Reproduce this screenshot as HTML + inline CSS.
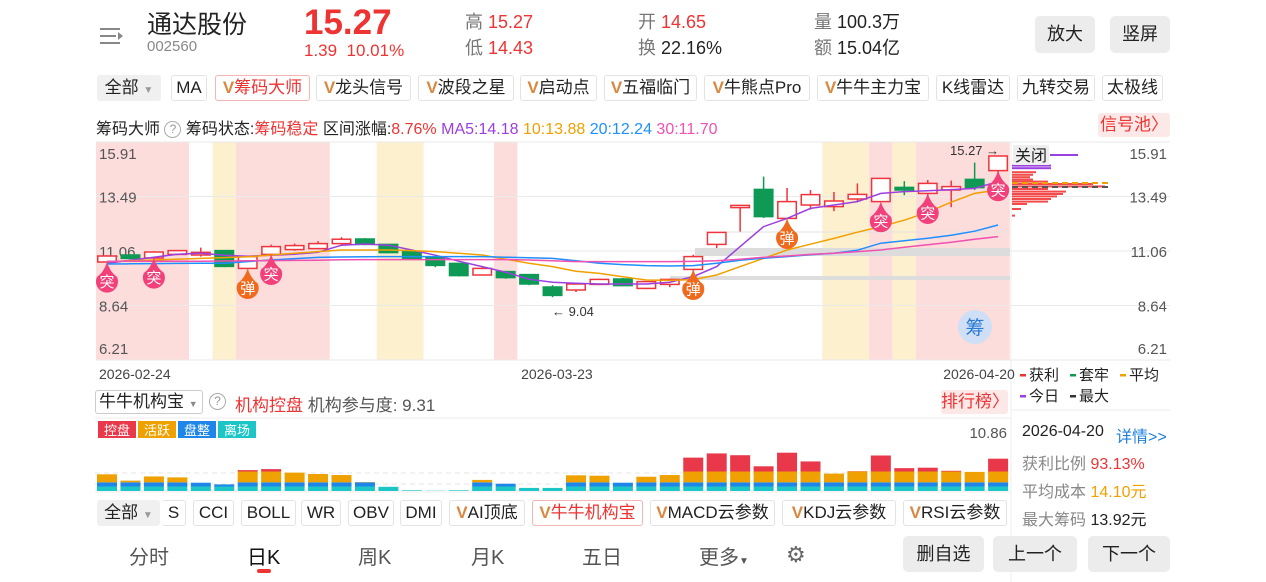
<!DOCTYPE html>
<html><head><meta charset="utf-8">
<style>
*{margin:0;padding:0;box-sizing:border-box}
body{width:1266px;height:582px;background:#fff;position:relative;overflow:hidden;font-family:"Liberation Sans","Noto Sans CJK SC",sans-serif;color:#222}
.a{position:absolute;white-space:nowrap}
.tab{position:absolute;top:75px;height:26px;border:1px solid #e3e3e3;border-radius:3px;font-size:17px;line-height:24px;text-align:center;color:#222;background:#fff}
.tab2{position:absolute;top:500px;height:26px;border:1px solid #e3e3e3;border-radius:3px;font-size:17px;line-height:24px;text-align:center;color:#222;background:#fff}
.v{color:#d9883f;font-weight:bold}
.btn{position:absolute;background:#ececec;border-radius:5px;font-size:18px;text-align:center;color:#222}
.g{color:#777}
.r{color:#ee3333}
</style></head><body>
<div class="a" style="left:100px;top:26px;width:24px;height:20px">
<div style="position:absolute;left:0;top:2px;width:20px;height:2px;background:#888"></div>
<div style="position:absolute;left:0;top:9px;width:16px;height:2px;background:#888"></div>
<div style="position:absolute;left:0;top:16px;width:20px;height:2px;background:#888"></div>
<div style="position:absolute;left:18px;top:6px;width:0;height:0;border-left:5px solid #888;border-top:4px solid transparent;border-bottom:4px solid transparent"></div></div>
<div class="a" style="left:147px;top:10px;font-size:25px;line-height:30px;color:#222">通达股份</div>
<div class="a" style="left:147px;top:38px;font-size:15px;line-height:18px;color:#888">002560</div>
<div class="a r" style="left:304px;top:4px;font-size:35px;line-height:38px;font-weight:bold">15.27</div>
<div class="a r" style="left:304px;top:41px;font-size:17px;line-height:20px">1.39&nbsp;&nbsp;10.01%</div>
<div class="a" style="left:465px;top:11px;font-size:18px;line-height:22px"><span class="g">高</span> <span class="r">15.27</span></div>
<div class="a" style="left:465px;top:37px;font-size:18px;line-height:22px"><span class="g">低</span> <span class="r">14.43</span></div>
<div class="a" style="left:638px;top:11px;font-size:18px;line-height:22px"><span class="g">开</span> <span class="r">14.65</span></div>
<div class="a" style="left:638px;top:37px;font-size:18px;line-height:22px"><span class="g">换</span> 22.16%</div>
<div class="a" style="left:814px;top:11px;font-size:18px;line-height:22px"><span class="g">量</span> 100.3万</div>
<div class="a" style="left:814px;top:37px;font-size:18px;line-height:22px"><span class="g">额</span> 15.04亿</div>
<div class="btn" style="left:1035px;top:16px;width:60px;height:37px;line-height:37px">放大</div>
<div class="btn" style="left:1110px;top:16px;width:60px;height:37px;line-height:37px">竖屏</div>
<div class="tab" style="left:97px;width:64px;background:#f0f0f0;border-color:#f0f0f0">全部 <span style="font-size:10px;color:#999">▼</span></div>
<div class="tab" style="left:171px;width:36px">MA</div>
<div class="tab" style="left:215px;width:95px;color:#ee3333;border-color:#f5b5b5"><span class="v">V</span>筹码大师</div>
<div class="tab" style="left:316px;width:95px"><span class="v">V</span>龙头信号</div>
<div class="tab" style="left:418px;width:96px"><span class="v">V</span>波段之星</div>
<div class="tab" style="left:520px;width:77px"><span class="v">V</span>启动点</div>
<div class="tab" style="left:604px;width:93px"><span class="v">V</span>五福临门</div>
<div class="tab" style="left:704px;width:106px"><span class="v">V</span>牛熊点Pro</div>
<div class="tab" style="left:817px;width:112px"><span class="v">V</span>牛牛主力宝</div>
<div class="tab" style="left:936px;width:74px">K线雷达</div>
<div class="tab" style="left:1017px;width:78px">九转交易</div>
<div class="tab" style="left:1102px;width:61px">太极线</div>
<div class="a" style="left:96px;top:115px;font-size:16px;color:#222">筹码大师 <span style="display:inline-block;width:17px;height:17px;border:1px solid #aaa;border-radius:50%;font-size:12px;line-height:15px;text-align:center;color:#999;vertical-align:1px">?</span> 筹码状态:<span class="r">筹码稳定</span> 区间涨幅:<span class="r">8.76%</span> <span style="color:#9b3fe0">MA5:14.18</span> <span style="color:#f0a000">10:13.88</span> <span style="color:#1e8fff">20:12.24</span> <span style="color:#f050b0">30:11.70</span></div>
<div class="a" style="left:1098px;top:113px;width:72px;height:24px;background:#fde8e8;color:#ee3333;font-size:17px;line-height:24px;text-align:center;border-radius:3px">信号池〉</div>

<svg id="chart" class="a" style="left:0;top:0" width="1266" height="582"></svg>

<div class="a" style="left:95px;top:390px;width:108px;height:24px;border:1px solid #ccc;border-radius:3px;font-size:17px;line-height:22px;padding-left:3px">牛牛机构宝 <span style="font-size:9px;color:#888">▼</span></div>
<div class="a" style="left:209px;top:393px;width:17px;height:17px;border:1px solid #aaa;border-radius:50%;font-size:12px;line-height:15px;text-align:center;color:#999">?</div>
<div class="a" style="left:235px;top:391px;font-size:17px"><span class="r">机构控盘</span> <span style="color:#555">机构参与度: 9.31</span></div>
<div class="a" style="left:941px;top:390px;width:67px;height:24px;background:#fde8e8;color:#ee3333;font-size:17px;line-height:24px;text-align:center;border-radius:3px">排行榜〉</div>
<div class="a" style="left:1022px;top:423px;font-size:16px">2026-04-20</div>
<div class="a" style="left:1116px;top:423px;font-size:16px;color:#1e7fe0">详情&gt;&gt;</div>
<div class="a" style="left:1022px;top:450px;font-size:16px"><span style="color:#888">获利比例</span> <span class="r">93.13%</span></div>
<div class="a" style="left:1022px;top:478px;font-size:16px"><span style="color:#888">平均成本</span> <span style="color:#f0a000">14.10元</span></div>
<div class="a" style="left:1022px;top:506px;font-size:16px"><span style="color:#888">最大筹码</span> 13.92元</div>
<div class="tab2" style="left:97px;width:63px;background:#f0f0f0;border-color:#f0f0f0">全部 <span style="font-size:10px;color:#999">▼</span></div>
<div class="tab2" style="left:162px;width:24px;border-left:none">S</div>
<div class="tab2" style="left:193px;width:41px">CCI</div>
<div class="tab2" style="left:241px;width:55px">BOLL</div>
<div class="tab2" style="left:301px;width:40px">WR</div>
<div class="tab2" style="left:348px;width:46px">OBV</div>
<div class="tab2" style="left:400px;width:42px">DMI</div>
<div class="tab2" style="left:449px;width:76px"><span class="v">V</span>AI顶底</div>
<div class="tab2" style="left:532px;width:111px;color:#ee3333;border-color:#f5b5b5"><span class="v">V</span>牛牛机构宝</div>
<div class="tab2" style="left:650px;width:125px"><span class="v">V</span>MACD云参数</div>
<div class="tab2" style="left:782px;width:114px"><span class="v">V</span>KDJ云参数</div>
<div class="tab2" style="left:903px;width:104px"><span class="v">V</span>RSI云参数</div>
<div class="a" style="left:129px;top:541px;font-size:20px;color:#555">分时</div>
<div class="a" style="left:247px;top:541px;font-size:20px;color:#111">日K</div>
<div class="a" style="left:257px;top:569px;width:14px;height:4px;border-radius:2px;background:#ee3333"></div>
<div class="a" style="left:358px;top:541px;font-size:20px;color:#555">周K</div>
<div class="a" style="left:471px;top:541px;font-size:20px;color:#555">月K</div>
<div class="a" style="left:582px;top:541px;font-size:20px;color:#555">五日</div>
<div class="a" style="left:699px;top:541px;font-size:20px;color:#555">更多<span style="font-size:10px">▼</span></div>
<div class="a" style="left:786px;top:542px;font-size:22px;color:#666">⚙</div>
<div class="btn" style="left:903px;top:536px;width:81px;height:36px;line-height:36px">删自选</div>
<div class="btn" style="left:993px;top:536px;width:84px;height:36px;line-height:36px">上一个</div>
<div class="btn" style="left:1088px;top:536px;width:82px;height:36px;line-height:36px">下一个</div>

<script>
const opens  =[10.46,10.81,10.66,10.84,10.81,11.03,10.14,10.84,11.08,11.13,11.38,11.61,11.34,10.99,10.68,10.39,9.81,9.98,9.83,9.21,9.06,9.34,9.61,9.14,9.34,10.09,11.34,13.18,14.09,12.64,13.31,13.23,13.61,13.48,14.19,13.89,14.06,14.59,15.03];
const closes =[10.76,10.64,10.96,11.03,10.94,10.24,10.73,11.23,11.28,11.38,11.60,11.34,10.93,10.61,10.29,9.78,10.14,9.68,9.36,8.79,9.36,9.59,9.28,9.48,9.59,10.73,11.94,13.29,12.73,13.48,13.83,13.51,13.84,14.64,14.06,14.39,14.23,14.18,15.76];
const highs  =[10.80,10.85,11.00,11.06,11.18,11.06,10.78,11.33,11.38,11.50,11.70,11.66,11.36,11.02,10.70,10.42,10.18,10.02,9.86,9.30,9.40,9.62,9.66,9.50,9.62,10.82,11.94,13.29,14.73,14.16,14.06,13.96,14.39,14.66,14.50,14.56,14.53,15.43,15.76];
const lows   =[10.44,10.60,10.62,10.80,10.73,10.20,10.09,10.80,11.02,11.10,11.34,11.30,10.90,10.56,10.20,9.74,9.78,9.62,9.30,8.70,8.96,9.30,9.25,9.10,9.20,9.70,11.16,11.98,12.66,12.60,13.08,13.00,13.48,13.46,13.80,13.50,13.20,14.06,14.70];
const ma5  =[10.40,10.55,10.70,10.85,10.90,10.80,10.75,10.80,10.85,10.95,11.30,11.36,11.30,11.06,10.80,10.50,10.23,9.95,9.60,9.45,9.40,9.36,9.36,9.36,9.45,9.73,10.23,11.23,12.23,12.64,13.14,13.31,13.48,13.89,13.98,14.02,14.08,14.14,14.48];
const ma10 =[10.48,10.52,10.56,10.60,10.64,10.68,10.72,10.81,10.90,10.98,11.06,11.06,11.06,11.03,10.98,10.90,10.81,10.60,10.40,10.23,10.00,9.89,9.72,9.56,9.54,9.58,9.81,10.23,10.64,11.06,11.35,11.64,11.95,12.23,12.55,12.95,13.45,13.89,14.06];
const ma20 =[10.36,10.37,10.38,10.39,10.40,10.40,10.48,10.56,10.63,10.69,10.71,10.72,10.73,10.73,10.73,10.73,10.73,10.70,10.67,10.64,10.52,10.40,10.33,10.28,10.26,10.28,10.40,10.55,10.65,10.73,10.82,10.90,11.05,11.40,11.52,11.65,11.80,12.00,12.31];
const ma30 =[10.50,10.50,10.50,10.50,10.50,10.51,10.52,10.53,10.54,10.55,10.57,10.58,10.58,10.58,10.58,10.58,10.58,10.58,10.56,10.52,10.48,10.48,10.48,10.48,10.48,10.49,10.52,10.60,10.70,10.76,10.84,10.90,10.98,11.06,11.20,11.32,11.45,11.60,11.73];
const priceTicks=["15.91","13.49","11.06","8.64","6.21"];
const dateLabels=[[0,"2026-02-24"],[18,"2026-03-23"],[36,"2026-04-20"]];
const signals=[[0,"突"],[2,"突"],[6,"弹"],[7,"突"],[25,"弹"],[29,"弹"],[33,"突"],[35,"突"],[38,"突"]];
const bands=[[0,3,"p"],[5,5,"y"],[6,9,"p"],[12,13,"y"],[17,17,"p"],[31,32,"y"],[33,33,"p"],[34,34,"y"],[35,38,"p"]];
const chipLen=[13,13,8,7,6,7,12,27,31,12,18,17,15,13,12,5,3,1];
const chipPrice=[15.28,15.15,14.95,14.82,14.70,14.58,14.48,14.36,14.24,14.11,13.98,13.86,13.74,13.61,13.48,13.36,13.11,12.78];
const liArr=[0.8,0.8,0.8,0.8,0.8,0.8,0.8,0.8,0.8,0.8,0.8,0.8,0.75,0.12,0.05,0.12,0.8,0.8,0.55,0.55,0.8,0.8,0.8,0.8,0.8,0.8,0.8,0.8,0.8,0.8,0.8,0.8,0.8,0.8,0.8,0.8,0.8,0.8,0.8];
const pzArr=[0.75,0.75,0.75,0.75,0.68,0.38,0.75,0.75,0.75,0.75,0.75,0.75,0,0,0,0,0.75,0.5,0,0,0.75,0.75,0.68,0.75,0.75,0.75,0.75,0.75,0.75,0.75,0.75,0.75,0.75,0.75,0.75,0.75,0.75,0.75,0.75];
const hyArr=[1.43,0.3,1.05,0.88,0,0,1.93,1.93,1.73,1.48,1.3,0.05,0,0,0,0,0.43,0,0,0,1.25,1.18,0,1.0,1.3,1.93,1.93,1.93,1.93,1.93,1.93,1.55,1.93,1.93,1.93,1.93,1.93,1.86,1.93];
const kpArr=[0,0,0,0,0,0,0.25,0.43,0,0,0,0,0,0,0,0,0,0,0,0,0,0,0,0,0,2.48,3.23,2.91,0.93,3.36,1.8,0,0.05,2.86,0.6,0.68,0.13,0,2.29];

const svg=document.getElementById('chart');
const NS='http://www.w3.org/2000/svg';
function mk(tag,attrs,name,inter){const e=document.createElementNS(NS,tag);for(const k in attrs)e.setAttribute(k,attrs[k]);


svg.appendChild(e);return e;}
const X0=107,DX=23.45,CW=20;
const xAt=i=>X0+i*DX;
const yP=p=>153+(15.91-p)*20.0;
const GTOP=142,GBOT=360;
const BASE=491,SUB=5.6;
const yV=v=>BASE-v*SUB;
bands.forEach(b=>{const x1=xAt(b[0])-11.7,x2=xAt(b[1])+11.7;
mk('rect',{x:Math.max(96,x1),y:142,width:Math.min(1010,x2)-Math.max(96,x1),height:218,fill:b[2]=="p"?"#fddcdc":"#fdf0cf"},'signal-band',false);});
mk('line',{x1:1011,y1:142,x2:1011,y2:582,stroke:'#eee'},'right-panel-divider',false);
priceTicks.forEach((t,k)=>{const gy=GTOP+k*(GBOT-GTOP)/(priceTicks.length-1);
mk('line',{x1:96,y1:gy,x2:1170,y2:gy,stroke:'#eaeaea'},'price-gridline',false);
const ty=Math.min(Math.max(gy+6,159),354);
const a=mk('text',{x:99,y:ty,'font-size':15,fill:'#555'},'price-tick-left',false);a.textContent=t;
const b=mk('text',{x:1167,y:ty,'font-size':15,fill:'#555','text-anchor':'end'},'price-tick-right',false);b.textContent=t;});
mk('rect',{x:695,y:248,width:315,height:8,fill:'#dcdcdc'},'chip-zone-band',false);
mk('rect',{x:670,y:276,width:340,height:4,fill:'#dddddd'},'chip-zone-band',false);
mk('line',{x1:720,y1:232,x2:1010,y2:232,stroke:'#e2e2e2'},'chip-zone-line',false);
for(let i=0;i<opens.length;i++){const up=closes[i]>=opens[i],x=xAt(i);
const col=up?'#f0343b':'#0e9a55';
const top=yP(Math.max(opens[i],closes[i])),bot=yP(Math.min(opens[i],closes[i]));
mk('line',{x1:x,y1:yP(highs[i]),x2:x,y2:top,stroke:col,'stroke-width':1.5},'candle-wick',false);
mk('line',{x1:x,y1:bot,x2:x,y2:yP(lows[i]),stroke:col,'stroke-width':1.5},'candle-wick',false);
mk('rect',{x:x-CW/2+0.75,y:top,width:CW-1.5,height:Math.max(1.5,bot-top),fill:up?'#fff':col,stroke:col,'stroke-width':1.5},'candle-'+i,true);}
[[ma5,'#9b3fe0','ma5-line'],[ma10,'#f0a000','ma10-line'],[ma20,'#1e8fff','ma20-line'],[ma30,'#f050b0','ma30-line']].forEach(m=>{
mk('polyline',{points:m[0].map((v,i)=>xAt(i)+','+yP(v)).join(' '),fill:'none',stroke:m[1],'stroke-width':1.5},m[2],false);});
signals.forEach(s=>{const i=s[0],x=xAt(i),tip=yP(Math.min(opens[i],closes[i])),cy=tip+19;
const c=s[1]=="突"?'#f2407a':'#f06a1e';
mk('path',{d:`M${x} ${tip} Q${x+3} ${cy-9} ${x+10} ${cy-4} A11 11 0 1 1 ${x-10} ${cy-4} Q${x-3} ${cy-9} ${x} ${tip}Z`,fill:c},'signal-marker',true);
const t=mk('text',{x:x,y:cy+6,'font-size':15,fill:'#fff','text-anchor':'middle'},'signal-label',false);t.textContent=s[1];});
let t=mk('text',{x:950,y:155,'font-size':13,fill:'#333'},'last-price-label',false);t.textContent='15.27 →';
t=mk('text',{x:552,y:316,'font-size':13,fill:'#333'},'low-price-label',false);t.textContent='← 9.04';
mk('circle',{cx:975,cy:327,r:17,fill:'#cfdff5'},'chip-button',true);
t=mk('text',{x:975,y:334,'font-size':19,fill:'#2a7ad8','text-anchor':'middle'},'chip-button-label',false);t.textContent='筹';
chipLen.forEach((l,k)=>{const y=yP(chipPrice[k]);
mk('rect',{x:1012,y:y-1,width:l*3,height:2,fill:k<2?'#9b3fe0':'#f24b4b'},'chip-bar',false);});
mk('line',{x1:1012,y1:183,x2:1110,y2:183,stroke:'#f0a000','stroke-width':2,'stroke-dasharray':'6 4'},'average-cost-line',false);
mk('line',{x1:1012,y1:187,x2:1110,y2:187,stroke:'#555','stroke-width':2,'stroke-dasharray':'6 4'},'max-chip-line',false);
mk('rect',{x:1013,y:145,width:36,height:20,fill:'#eee'},'close-chip-bg',true);
t=mk('text',{x:1015,y:161,'font-size':16,fill:'#222'},'close-chip-button',true);t.textContent='关闭';
mk('line',{x1:1050,y1:155,x2:1078,y2:155,stroke:'#9b3fe0','stroke-width':2},'today-line',false);
dateLabels.forEach(d=>{t=mk('text',{x:xAt(d[0])-8,y:379,'font-size':14,fill:'#444'},'date-label',false);t.textContent=d[1];});
[[1020,379,'#ee3333','获利'],[1070,379,'#0e9a55','套牢'],[1120,379,'#f0a000','平均'],[1020,400,'#9b3fe0','今日'],[1070,400,'#333','最大']].forEach(L=>{
mk('rect',{x:L[0],y:L[1]-5,width:6,height:2.5,fill:L[2]},'legend-swatch',false);
t=mk('text',{x:L[0]+9,y:L[1]+1,'font-size':15,fill:'#222'},'legend-entry',false);t.textContent=L[3];});
mk('line',{x1:1011,y1:410,x2:1170,y2:410,stroke:'#eee'},'legend-divider',false);
mk('line',{x1:95,y1:418,x2:1010,y2:418,stroke:'#eee'},'sub-top-border',false);
mk('line',{x1:95,y1:473,x2:1010,y2:473,stroke:'#e6e6e6','stroke-dasharray':'5 4'},'sub-gridline',false);
mk('line',{x1:95,y1:484,x2:1010,y2:484,stroke:'#e6e6e6','stroke-dasharray':'5 4'},'sub-gridline',false);
t=mk('text',{x:1007,y:438,'font-size':15,fill:'#555','text-anchor':'end'},'sub-max-label',false);t.textContent='10.86';
[['控盘','#e8384a',98],['活跃','#eea100',138],['盘整','#1e86e8',178],['离场','#1cc6c6',218]].forEach(c=>{
mk('rect',{x:c[2],y:421,width:38,height:17,fill:c[1]},'sub-legend-chip',false);
t=mk('text',{x:c[2]+19,y:435,'font-size':13,fill:'#fff','text-anchor':'middle'},'sub-legend-label',false);t.textContent=c[0];});
for(let i=0;i<liArr.length;i++){const x=xAt(i)-10;let acc=0;
[[liArr,'#1cc6c6','exit'],[pzArr,'#1e86e8','consolidate'],[hyArr,'#eea100','active'],[kpArr,'#e8384a','control']].forEach(s=>{const v=s[0][i];if(v<=0)return;
mk('rect',{x:x,y:yV(acc+v),width:20,height:v*SUB,fill:s[1]},'bar-'+s[2]+'-'+i,false);acc+=v;});}
mk('line',{x1:95,y1:492,x2:1010,y2:492,stroke:'#eee'},'sub-bottom-border',false);
</script>
</body></html>
